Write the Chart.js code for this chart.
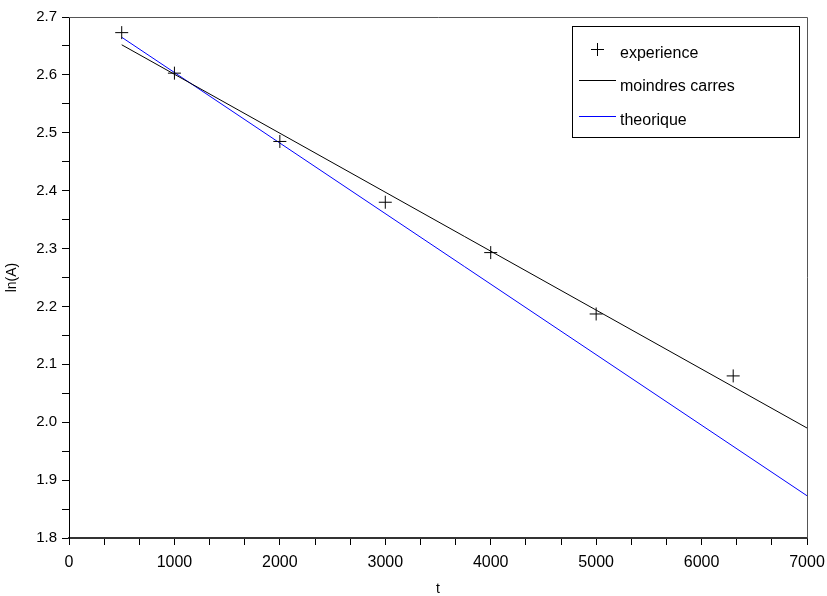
<!DOCTYPE html>
<html>
<head>
<meta charset="utf-8">
<script src="https://cdn.jsdelivr.net/npm/chart.js@4"></script>
<style>
  html, body { margin: 0; padding: 0; background: #fff; }
  #wrap { width: 827px; height: 596px; }
</style>
</head>
<body>
<div id="wrap"><canvas id="chart" width="827" height="596"></canvas></div>
<script>
// measured points
const expT = [500, 1000, 2000, 3000, 4000, 5000, 6300];
const expLnA = [2.673, 2.603, 2.485, 2.38, 2.293, 2.187, 2.08];
// least squares fit, drawn between two ends
const lsqT = [500, 7000];
const lsqLnA = [2.652, 1.99];
// theoretical line
const theoT = [500, 7000];
const theoLnA = [2.665, 1.873];

const labels = ["experience", "moindres carres", "theorique"];
const colors = ["#000000", "#000000", "#0000ff"];

const pairs = (xs, ys) => xs.map((x, i) => ({ x: x, y: ys[i] }));
const FONT = "'Liberation Sans', Arial, sans-serif";

// legend drawn in a box in the top right corner
const boxLegend = {
  id: "boxLegend",
  afterDraw(chart) {
    const ctx = chart.ctx;
    const left = 572, top = 26, w = 227, h = 111;
    ctx.save();
    ctx.lineWidth = 1;
    ctx.strokeStyle = "#000";
    ctx.strokeRect(left + 0.5, top + 0.5, w, h);
    ctx.font = "16px " + FONT;
    ctx.textBaseline = "alphabetic";
    const baselines = [58, 91, 125];
    const marks = [49, 80, 116];
    chart.data.datasets.forEach((ds, i) => {
      const m = marks[i];
      ctx.fillStyle = colors[i];
      if (ds.showLine) {
        ctx.fillRect(579, m, 37, 1);
      } else {
        ctx.fillRect(591, m, 13, 1);
        ctx.fillRect(597, m - 6, 1, 13);
      }
      ctx.fillStyle = "#000";
      ctx.fillText(ds.label, 620, baselines[i]);
    });
    ctx.restore();
  }
};

// top and right edges of the frame
const frame = {
  id: "frame",
  afterDraw(chart) {
    const a = chart.chartArea;
    const ctx = chart.ctx;
    ctx.save();
    ctx.strokeStyle = "#555";
    ctx.lineWidth = 1;
    ctx.beginPath();
    ctx.moveTo(a.left, a.top + 0.5);
    ctx.lineTo(a.right + 0.5, a.top + 0.5);
    ctx.lineTo(a.right + 0.5, a.bottom);
    ctx.stroke();
    ctx.restore();
  }
};

new Chart(document.getElementById("chart"), {
  type: "scatter",
  data: {
    datasets: [
      {
        label: labels[0],
        data: pairs(expT, expLnA),
        showLine: false,
        pointStyle: "cross",
        pointRadius: 6.5,
        pointBorderWidth: 1,
        borderColor: colors[0],
        backgroundColor: colors[0],
      },
      {
        label: labels[1],
        data: pairs(lsqT, lsqLnA),
        showLine: true,
        pointRadius: 0,
        borderWidth: 1,
        borderColor: colors[1],
      },
      {
        label: labels[2],
        data: pairs(theoT, theoLnA),
        showLine: true,
        pointRadius: 0,
        borderWidth: 1,
        borderColor: colors[2],
      },
    ],
  },
  options: {
    responsive: false,
    animation: false,
    layout: { padding: { top: 17, right: 20, left: 0, bottom: 0 } },
    plugins: {
      legend: { display: false },
      tooltip: { enabled: false },
    },
    scales: {
      x: {
        type: "linear",
        min: 0,
        max: 7000,
        afterFit: (scale) => {
          scale.height = 58;
          scale.paddingLeft = 0;
          scale.paddingRight = 0;
        },
        border: { display: true, color: "#333", width: 2 },
        grid: { drawOnChartArea: false, drawTicks: true, tickLength: 7, color: "#000" },
        ticks: {
          stepSize: 1000 / 3,
          autoSkip: false,
          maxRotation: 0,
          padding: 8,
          color: "#000",
          font: { family: FONT, size: 16 },
          callback: (v) => {
            const k = v / 1000;
            return Math.abs(k - Math.round(k)) < 1e-6 ? String(Math.round(k) * 1000) : "";
          },
        },
        title: {
          display: true,
          text: "t",
          color: "#000",
          font: { family: FONT, size: 14 },
          padding: { top: 0, bottom: -2 },
        },
      },
      y: {
        type: "linear",
        min: 1.8,
        max: 2.7,
        afterFit: (scale) => {
          scale.width = 69;
          scale.paddingTop = 0;
          scale.paddingBottom = 0;
        },
        border: { display: true, color: "#000", width: 1 },
        grid: { drawOnChartArea: false, drawTicks: true, tickLength: 7, color: "#000" },
        ticks: {
          stepSize: 0.05,
          autoSkip: false,
          padding: 5,
          color: "#000",
          font: { family: FONT, size: 15 },
          callback: (v) => {
            const k = v * 10;
            return Math.abs(k - Math.round(k)) < 1e-6 ? (Math.round(k) / 10).toFixed(1) : "";
          },
        },
        title: {
          display: true,
          text: "ln(A)",
          color: "#000",
          font: { family: FONT, size: 14 },
          padding: { bottom: 2 },
        },
      },
    },
  },
  plugins: [boxLegend, frame],
});
</script>
</body>
</html>
